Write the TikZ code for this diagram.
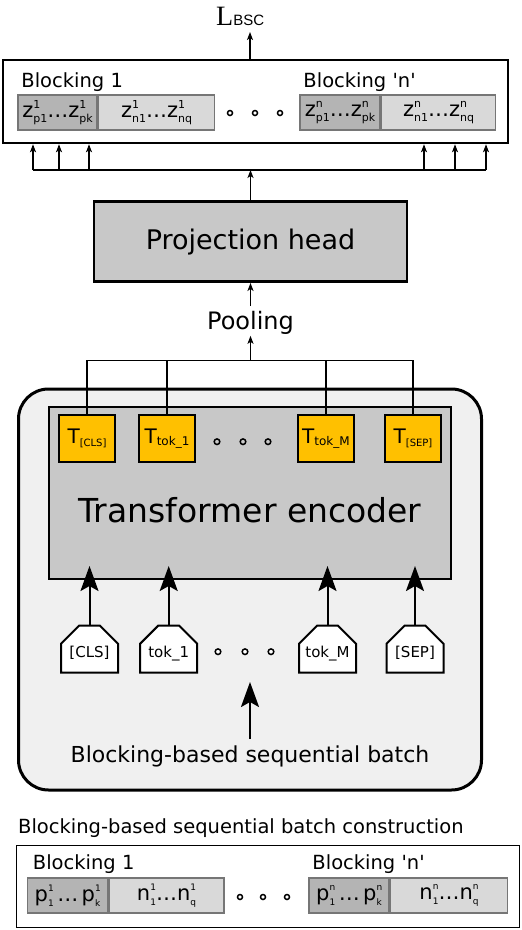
\documentclass[tikz,border=0pt]{standalone}
\usepackage{fontspec}
\setmainfont{DejaVu Sans}
\newfontfamily\lossfont{Liberation Serif}
\newfontfamily\lossSubfont{Liberation Sans}
\usetikzlibrary{arrows.meta}
\usetikzlibrary{positioning}
\usetikzlibrary{shapes.misc}
\definecolor{cellDarkFill}{HTML}{B4B4B4}
\definecolor{cellLightFill}{HTML}{D9D9D9}
\definecolor{cellEdge}{HTML}{767676}
\definecolor{boxGray}{HTML}{C8C8C8}
\definecolor{panelGray}{HTML}{F0F0F0}
\definecolor{tokYellow}{HTML}{FFC000}
\newcommand{\emb}[3]{#1\rlap{\raisebox{9pt}{\fontsize{11}{11}\selectfont #2}}\raisebox{-4.5pt}{\fontsize{11}{11}\selectfont #3}}
\newcommand{\embLow}[3]{#1\rlap{\raisebox{10pt}{\fontsize{9}{9}\selectfont #2}}\raisebox{-5pt}{\fontsize{9}{9}\selectfont #3}}
\newcommand{\tokT}[2]{{\fontsize{20}{20}\selectfont T}\raisebox{-2.5pt}{\fontsize{#2}{#2}\selectfont #1}}

\begin{document}
\begin{tikzpicture}[x=1pt,y=-1pt,
		every node/.style={inner sep=0pt},
		blockLabel/.style={anchor=base west, font=\fontsize{19.5}{19.5}\selectfont},
		cellDark/.style={draw=cellEdge, line width=1.5pt, fill=cellDarkFill, minimum height=35pt, font=\fontsize{21}{21}\selectfont},
		cellLight/.style={cellDark, fill=cellLightFill},
		dotRing/.style={line width=1.5pt, fill=white},
		smallArrow/.style={-{Stealth[length=8pt,width=6pt,inset=2pt]}, line width=1.2pt},
		bigArrow/.style={-{Stealth[length=25pt,width=18pt,inset=5pt]}, line width=2pt},
		tokOut/.style={draw, line width=1.8pt, fill=tokYellow, minimum width=56pt, minimum height=47pt},
		tokIn/.style={draw, line width=2pt, fill=white, chamfered rectangle, chamfered rectangle corners={north west,north east}, chamfered rectangle xsep=5pt, chamfered rectangle ysep=13pt, minimum width=57pt, minimum height=47pt, text height=17pt, text depth=0pt, font=\fontsize{15}{15}\selectfont}
		]
		\useasboundingbox (0,0) rectangle (522,930);
		
		% loss and blockings
		\node[anchor=base west] (lbsc) at (216,25) {{\lossfont\fontsize{28}{28}\selectfont L}{\lossSubfont\fontsize{15}{15}\selectfont BSC}};
		\node[draw, line width=2.5pt, minimum width=505pt, minimum height=83pt] (loss) at (255.5,101.5) {};
		\coordinate (lossTip) at (250,32);
		\draw[smallArrow] (loss.north -| lossTip) -- (lossTip);
		
		\node[cellDark, minimum width=79pt] (zp1) at (57.5,112.5) {\emb{z}{1}{p1}\ldots\emb{z}{1}{pk}};
		\node[cellLight, minimum width=116pt, right=0pt of zp1] (zn1) {\emb{z}{1}{n1}\ldots\emb{z}{1}{nq}};
		\node[cellDark, minimum width=80pt] (zpn) at (340,112.5) {\emb{z}{n}{p1}\ldots\emb{z}{n}{pk}};
		\node[cellLight, minimum width=114pt, right=0pt of zpn] (znn) {\emb{z}{n}{n1}\ldots\emb{z}{n}{nq}};
		\node[blockLabel] (blkA) at ([xshift=4pt,yshift=7pt]zp1.north west) {Blocking 1};
		\node[blockLabel] (blkN) at ([xshift=4pt,yshift=7pt]zpn.north west) {Blocking \textquotesingle n\textquotesingle};
		\foreach \x in {230,255,280}
			\draw[dotRing] (\x,113) ellipse [x radius=2.5pt, y radius=2.5pt];
		
		% fan out to the blockings
		\coordinate (fanBar) at (250.5,170);
		\draw[line width=1.2pt] (33,170) -- (486,170);
		\foreach \x in {33,59,89,424,455,486}
			\draw[smallArrow] (\x,170) -- (\x,0 |- loss.south);
		
		% projection head
		\node[draw, line width=2.5pt, fill=boxGray, minimum width=313pt, minimum height=80pt, font=\fontsize{27}{27}\selectfont] (proj) at (250.5,241.7) {Projection head};
		\draw[smallArrow] (proj.north) -- (fanBar);
		\node[font=\fontsize{24}{24}\selectfont] (pool) at (250.5,323) {Pooling};
		\draw[smallArrow] ([yshift=5pt]pool.north) -- (proj.south);
		
		% encoder
		\node[draw, line width=3pt, fill=panelGray, rounded corners=30pt, minimum width=463pt, minimum height=401pt] (panel) at (250,589.5) {};
		\node[draw, line width=2pt, fill=boxGray, minimum width=402pt, minimum height=172pt] (enc) at (250,493) {};
		\node[font=\fontsize{33}{33}\selectfont] (encLabel) at (250,510) {Transformer encoder};
		
		\node[tokOut] (tCls) at (87,438.5) {\tokT{[CLS]}{10}};
		\node[tokOut] (tTok1) at (167,438.5) {\tokT{tok\_1}{12}};
		\node[tokOut] (tTokM) at (326,438.5) {\tokT{tok\_M}{12}};
		\node[tokOut] (tSep) at (413,438.5) {\tokT{[SEP]}{10}};
		\foreach \x in {217,243,268}
			\draw[dotRing, fill=boxGray] (\x,441.7) ellipse [x radius=2.8pt, y radius=2.8pt];
		
		% pooling bar
		\coordinate (poolBar) at (250.5,360.7);
		\draw[line width=1.5pt] (tCls.north) -- (tCls.north |- poolBar) -- (tSep.north |- poolBar) -- (tSep.north);
		\draw[line width=1.5pt] (tTok1.north) -- (tTok1.north |- poolBar);
		\draw[line width=1.5pt] (tTokM.north) -- (tTokM.north |- poolBar);
		\draw[smallArrow] (poolBar) -- ([yshift=-1pt]pool.south);
		
		% input tokens
		\node[tokIn] (iCls) at (89.5,649.2) {[CLS]};
		\node[tokIn] (iTok1) at (168.7,649.2) {tok\_1};
		\node[tokIn] (iTokM) at (327.5,649.2) {tok\_M};
		\node[tokIn] (iSep) at (415,649.2) {[SEP]};
		\foreach \x in {218,245,271}
			\draw[dotRing] (\x,651.7) ellipse [x radius=2.8pt, y radius=2.8pt];
		\foreach \t in {iCls,iTok1,iTokM,iSep}
			\draw[bigArrow] (\t.north) -- ([yshift=14pt]\t.north |- enc.south);
		
		\node[font=\fontsize{22}{22}\selectfont] (batch) at (250,756) {Blocking-based sequential batch};
		\coordinate (batchTip) at (250,682);
		\draw[bigArrow] ([yshift=6pt]batch.north -| batchTip) -- (batchTip);
		
		% batch construction
		\node[anchor=base west, font=\fontsize{19.5}{19.5}\selectfont] (construct) at (18,833) {Blocking-based sequential batch construction};
		\node[draw, line width=1.2pt, minimum width=502.5pt, minimum height=82pt] (batchBox) at (268,886.7) {};
		\node[cellDark, minimum width=80pt] (pp1) at (67.5,895.5) {\embLow{p}{1}{1}\,\ldots\,\embLow{p}{1}{k}};
		\node[cellLight, minimum width=115pt, right=0pt of pp1] (pn1) {\embLow{n}{1}{1}\ldots\embLow{n}{1}{q}};
		\node[cellDark, minimum width=80pt] (ppn) at (349,895.5) {\embLow{p}{n}{1}\,\ldots\,\embLow{p}{n}{k}};
		\node[cellLight, minimum width=117pt, right=0pt of ppn] (pnn) {\embLow{n}{n}{1}\ldots\embLow{n}{n}{q}};
		\node[blockLabel] (bblkA) at ([xshift=6pt,yshift=8pt]pp1.north west) {Blocking 1};
		\node[blockLabel] (bblkN) at ([xshift=4pt,yshift=8pt]ppn.north west) {Blocking \textquotesingle n\textquotesingle};
		\foreach \x in {240,263,287}
			\draw[dotRing] (\x,897) ellipse [x radius=2.5pt, y radius=2.5pt];
		
\end{tikzpicture}
\end{document}
